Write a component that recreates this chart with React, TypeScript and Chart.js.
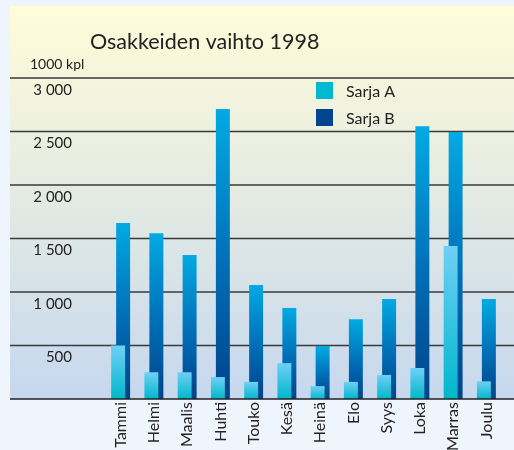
import React, { useEffect, useRef } from 'react';
import { Chart, registerables } from 'chart.js';

Chart.register(...registerables);

const categories = ['Tammi', 'Helmi', 'Maalis', 'Huhti', 'Touko', 'Kesä', 'Heinä', 'Elo', 'Syys', 'Loka', 'Marras', 'Joulu'];
const seriesA = [500, 250, 250, 205, 160, 335, 120, 160, 225, 290, 1430, 165];
const seriesB = [1645, 1550, 1345, 2710, 1065, 850, 495, 745, 935, 2550, 2495, 935];
const seriesNames = ['Sarja A', 'Sarja B'];
const legendColors = ['#00b9d0', '#00458e'];
const yTickValues = [0, 500, 1000, 1500, 2000, 2500, 3000];
const yTickLabels = ['', '500', '1 000', '1 500', '2 000', '2 500', '3 000'];
const titleText = 'Osakkeiden vaihto 1998';
const unitText = '1000 kpl';

const FONT = 'Lato, "Open Sans", sans-serif';

const stopsA: [number, string][] = [
  [0, '#6fd0f6'],
  [1, '#00b7cc'],
];
const stopsB: [number, string][] = [
  [0, '#02aae3'],
  [0.5, '#0072ba'],
  [1, '#00428a'],
];

function barGradient(ctx: any, stops: [number, string][]) {
  const chart = ctx.chart;
  const scales = chart.scales;
  const fallback = stops[stops.length - 1][1];
  if (!scales || !scales.y || !ctx.parsed || ctx.parsed.y == null) return fallback;
  const top = scales.y.getPixelForValue(ctx.parsed.y);
  const base = scales.y.getPixelForValue(0);
  if (!isFinite(top) || !isFinite(base) || base - top < 1) return fallback;
  const g = chart.ctx.createLinearGradient(0, top, 0, base);
  stops.forEach(([o, c]) => g.addColorStop(o, c));
  return g;
}

const decorPlugin = {
  id: 'decor',
  beforeDraw(chart: any) {
    const { ctx, width, height } = chart;
    const yScale = chart.scales.y;
    const base = yScale.getPixelForValue(0);
    ctx.save();
    ctx.fillStyle = '#eef5fd';
    ctx.fillRect(0, 0, width, height);
    const g = ctx.createLinearGradient(0, 6, 0, base);
    g.addColorStop(0, '#fffcd8');
    g.addColorStop(1, '#c6d8ef');
    ctx.fillStyle = g;
    ctx.fillRect(10, 6, width - 10, base - 6);
    ctx.restore();
  },
  beforeDatasetsDraw(chart: any) {
    const { ctx, width } = chart;
    const yScale = chart.scales.y;
    ctx.save();
    yScale.ticks.forEach((t: any) => {
      if (t.value <= 0) return;
      const py = yScale.getPixelForValue(t.value);
      ctx.beginPath();
      ctx.strokeStyle = t.value === 3000 ? '#666666' : '#3a3a3a';
      ctx.lineWidth = t.value === 3000 ? 1.8 : 1.3;
      ctx.moveTo(10, py);
      ctx.lineTo(width, py);
      ctx.stroke();
    });
    ctx.restore();
  },
  afterDatasetsDraw(chart: any) {
    const { ctx, width } = chart;
    const yScale = chart.scales.y;
    const py = yScale.getPixelForValue(0);
    ctx.save();
    ctx.beginPath();
    ctx.strokeStyle = '#222222';
    ctx.lineWidth = 1.5;
    ctx.moveTo(10, py);
    ctx.lineTo(width, py);
    ctx.stroke();

    // title + unit
    ctx.fillStyle = '#222222';
    ctx.textAlign = 'left';
    ctx.textBaseline = 'alphabetic';
    ctx.font = '21.5px ' + FONT;
    ctx.fillText(titleText, 90, 49);
    ctx.font = '14px ' + FONT;
    ctx.fillText(unitText, 30, 69);

    // legend
    chart.data.datasets.forEach((ds: any, i: number) => {
      const y = 82 + i * 27;
      ctx.fillStyle = legendColors[i];
      ctx.fillRect(316, y, 17, 17);
      ctx.fillStyle = '#222222';
      ctx.font = '16px ' + FONT;
      ctx.textBaseline = 'middle';
      ctx.fillText(ds.label, 346, y + 10);
    });
    ctx.restore();
  },
};

export default function App() {
  const ref = useRef<HTMLCanvasElement>(null);
  useEffect(() => {
    if (!ref.current) return;
    const chart = new Chart(ref.current, {
      type: 'bar',
      data: {
        labels: categories,
        datasets: [
          {
            label: seriesNames[0],
            data: seriesA,
            backgroundColor: (ctx: any) => barGradient(ctx, stopsA),
            borderWidth: 0,
            categoryPercentage: 0.3,
            barPercentage: 2.8,
          },
          {
            label: seriesNames[1],
            data: seriesB,
            backgroundColor: (ctx: any) => barGradient(ctx, stopsB),
            borderWidth: 0,
            categoryPercentage: 0.3,
            barPercentage: 2.8,
          },
        ],
      },
      options: {
        responsive: false,
        animation: false,
        layout: { padding: { left: 0, right: 11, top: 78, bottom: 0 } },
        plugins: {
          legend: { display: false },
          title: { display: false },
          tooltip: { enabled: false },
        },
        scales: {
          x: {
            grid: { display: false, drawTicks: false },
            border: { display: false },
            ticks: {
              autoSkip: false,
              minRotation: 90,
              maxRotation: 90,
              padding: 3,
              color: '#222222',
              font: { family: FONT, size: 16 },
            },
            afterFit: (scale: any) => {
              scale.height = 51;
            },
          },
          y: {
            min: 0,
            max: 3000,
            afterBuildTicks: (scale: any) => {
              scale.ticks = yTickValues.map((v) => ({ value: v }));
            },
            grid: { display: false, drawTicks: false },
            border: { display: false },
            ticks: {
              padding: 32,
              labelOffset: 12,
              color: '#222222',
              font: { family: FONT, size: 15 },
              callback: (value: any) => {
                const i = yTickValues.indexOf(Number(value));
                return i >= 0 ? yTickLabels[i] : '';
              },
            },
            afterFit: (scale: any) => {
              scale.width = 104;
            },
          },
        },
      },
      plugins: [decorPlugin],
    });
    return () => chart.destroy();
  }, []);
  return (
    <div style={{ position: 'fixed', left: 0, top: 0, width: 514, height: 450, background: '#eef5fd' }}>
      <canvas ref={ref} width={514} height={450} style={{ display: 'block' }} />
    </div>
  );
}
